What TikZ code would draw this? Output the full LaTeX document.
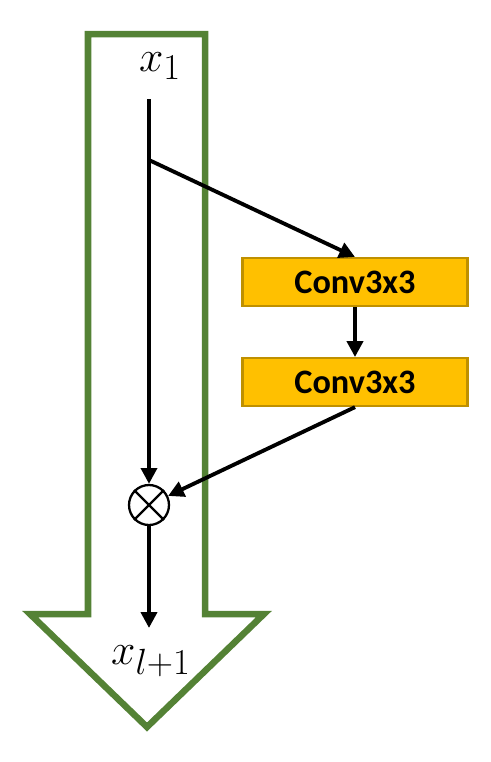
\documentclass[tikz,border=0pt]{standalone}
\usepackage{fontspec}
\usetikzlibrary{positioning,arrows.meta}
\newfontfamily\convfont{Carlito}
\definecolor{blockgreen}{HTML}{548235}
\definecolor{convfill}{HTML}{FFC000}
\definecolor{convborder}{HTML}{BF9000}

\begin{document}
\begin{tikzpicture}[x=0.02cm, y=-0.02cm,
    conv/.style={draw=convborder, fill=convfill, line width=1.2pt, minimum width=4.5cm, minimum height=0.96cm,
        font=\convfont\bfseries\fontsize{19.5}{22}\selectfont},
    flow/.style={-{Triangle[length=9pt,width=9pt]}, line width=2.2pt},
    label/.style={font=\fontsize{29}{32}\selectfont, inner sep=0pt}]
    \useasboundingbox (0,0) rectangle (491,762);
    % big green block arrow
    \draw[blockgreen, line width=3.7pt, miter limit=10]
        (88,34) -- (205,34) -- (205,614) -- (264,614) -- (147,727) -- (30,614) -- (88,614) -- cycle;
    \node[label] (xin) at (160,66) {$x_1$};
    \node[label] (xout) at (151,661) {$x_{l+1}$};
    \node[conv] (c1) at (355,282) {Conv3x3};
    \node[conv, below=1cm of c1] (c2) {Conv3x3};
    \node[draw, circle, line width=1.3pt, minimum size=0.8cm, inner sep=0pt] (prod) at (149,505) {};
    \draw[line width=1.3pt] (prod.north east) -- (prod.south west) (prod.north west) -- (prod.south east);
    \coordinate (top) at (149,99);
    \coordinate (split) at (149,160);
    \coordinate (out) at (149,628);
    \draw[line width=2.2pt] (top) -- (split);
    \draw[flow] (split) -- (prod);
    \draw[flow] (split) -- (c1.north);
    \draw[flow] (c1) -- (c2);
    \draw[flow] (c2.south) -- (prod);
    \draw[flow] (prod) -- (out);
\end{tikzpicture}
\end{document}
